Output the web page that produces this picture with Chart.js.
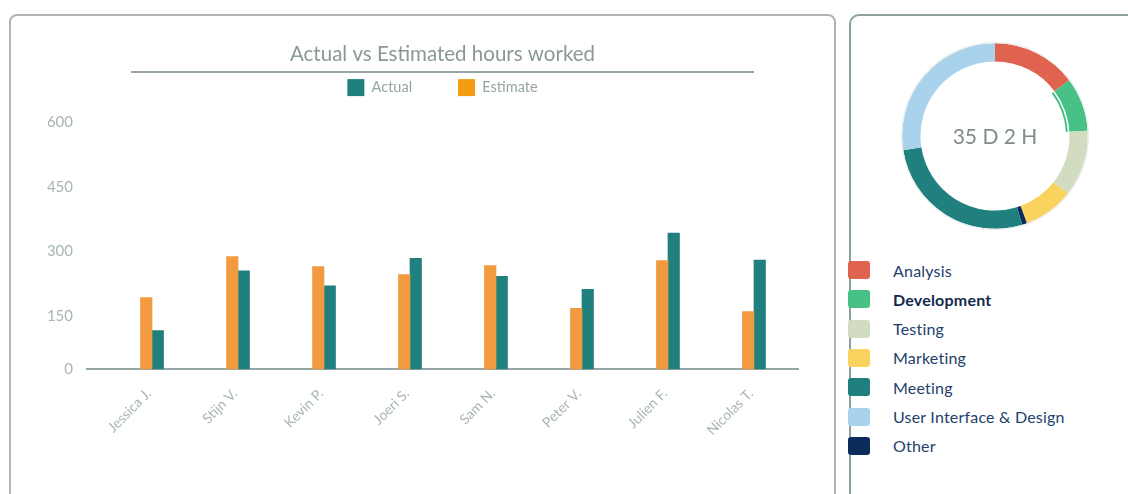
<!DOCTYPE html>
<html>
<head>
<meta charset="utf-8">
<script src="https://cdn.jsdelivr.net/npm/chart.js@4.4.1/dist/chart.umd.min.js"></script>
<style>
  html, body { margin:0; padding:0; background:#fff; }
  body { width:1128px; height:494px; overflow:hidden; position:relative; font-family:Lato, "Open Sans", sans-serif; }
  .card { position:absolute; box-sizing:border-box; background:#fff; }
  #cardL { left:9px; top:14px; width:827px; height:540px; border:2px solid #b3b3b3; border-radius:8px; }
  #cardR { left:849px; top:14px; width:320px; height:540px; border:2px solid #8e9f9f; border-radius:10px; }
  #barCanvas { position:absolute; left:10px; top:14px; }
  #donutCanvas { position:absolute; left:901px; top:42px; }
  #legendR { position:absolute; left:848px; top:255.4px; margin:0; padding:0; list-style:none; }
  #legendR li { height:29.3px; display:flex; align-items:center; font-size:16px; color:#23406a; letter-spacing:0.2px; }
  #legendR li .sw { width:22px; height:18px; border-radius:3px; margin-right:23px; flex:none; }
  #legendR li.on { font-weight:bold; color:#11294d; }
</style>
</head>
<body>
<div class="card" id="cardL"></div>
<div class="card" id="cardR"></div>
<canvas id="barCanvas" width="826" height="480"></canvas>
<canvas id="donutCanvas" width="188" height="188"></canvas>
<ul id="legendR"></ul>
<script>
// ---- data ----
const names = ['Jessica J.', 'Stijn V.', 'Kevin P.', 'Joeri S.', 'Sam N.', 'Peter V.', 'Julien F.', 'Nicolas T.'];
const actualHours = [90, 229, 194, 258, 216, 186, 317, 254];
const estimateHours = [167, 262, 239, 220, 241, 142, 253, 134];
const yTickValues = [0, 150, 300, 450, 600];

const activityLabels = ['Analysis', 'Development', 'Testing', 'Marketing', 'Other', 'Meeting', 'User Interface & Design'];
const activityHours = [124, 79, 97, 74, 7, 230, 231];
const activityColors = ['#e0634f', '#47c185', '#d2dcc0', '#f9d35e', '#0b2b5a', '#1f807d', '#a9d3ec'];
const legendOrder = ['Analysis', 'Development', 'Testing', 'Marketing', 'Meeting', 'User Interface & Design', 'Other'];
const highlighted = 'Development';

// ---- bar chart ----
const legendBoxColors = { 'Actual': '#1e817e', 'Estimate': '#f39c12' };
const titleRule = {
  id: 'titleRule',
  afterDraw(chart) {
    const { ctx, chartArea } = chart;
    const y = chart.titleBlock.top + 58;
    ctx.save();
    ctx.strokeStyle = '#95a5a6';
    ctx.lineWidth = 2;
    ctx.beginPath();
    ctx.moveTo(chartArea.left + 44, y);
    ctx.lineTo(chartArea.right - 44, y);
    ctx.stroke();
    ctx.restore();
  }
};

new Chart(document.getElementById('barCanvas'), {
  type: 'bar',
  data: {
    datasets: [
      { label: 'Estimate', data: estimateHours.map((v, i) => ({ x: i, y: v })), backgroundColor: '#f19a3f', borderWidth: 0, barThickness: 11.5 },
      { label: 'Actual', data: actualHours.map((v, i) => ({ x: i, y: v })), backgroundColor: '#1f807d', borderWidth: 0, barThickness: 11.5 }
    ]
  },
  plugins: [titleRule],
  options: {
    responsive: false,
    animation: false,
    layout: { padding: { left: 0, right: 38, top: 0, bottom: 0 } },
    plugins: {
      title: {
        display: true, text: 'Actual vs Estimated hours worked', fullSize: false,
        color: '#8a9899', font: { family: 'Lato', size: 20.5, weight: 'normal' },
        padding: { top: 28, bottom: -33.5 }
      },
      legend: {
        display: true, fullSize: false, reverse: true,
        labels: {
          boxWidth: 17, boxHeight: 17, padding: 46, color: '#97a4a5',
          font: { family: 'Lato', size: 14.5 },
          generateLabels: (chart) => Chart.defaults.plugins.legend.labels.generateLabels(chart)
            .map(l => Object.assign({}, l, { fillStyle: legendBoxColors[l.text] || l.fillStyle, lineWidth: 0 }))
        }
      },
      tooltip: { enabled: false }
    },
    scales: {
      x: {
        type: 'linear', min: -0.756, max: 7.512, offset: false,
        grid: { display: false, drawTicks: false },
        border: { display: true, color: '#95a5a6', width: 2 },
        afterBuildTicks: (s) => { s.ticks = names.map((n, i) => ({ value: i })); },
        afterFit: (s) => { s.height = 124.7; },
        ticks: {
          autoSkip: false, minRotation: 45, maxRotation: 45, padding: 16, labelOffset: -3,
          color: '#a8b5b6', font: { family: 'Lato', size: 14 },
          callback: (v) => names[Math.round(v)]
        }
      },
      y: {
        min: 0, max: 612,
        grid: { display: false, drawTicks: false },
        border: { display: false },
        afterBuildTicks: (s) => { s.ticks = yTickValues.map(v => ({ value: v })); },
        afterFit: (s) => { s.width = 77; },
        ticks: {
          padding: 14, autoSkip: false,
          color: '#a8b5b6', font: { family: 'Lato', size: 15, lineHeight: '22px' },
          callback: (v) => (v === 0 ? '0' : ['', String(v)])
        }
      }
    }
  }
});

// ---- doughnut ----
const centerText = {
  id: 'centerText',
  afterDraw(chart) {
    const { ctx, chartArea } = chart;
    const total = activityHours.reduce((a, b) => a + b, 0);
    const text = Math.floor(total / 24) + ' D ' + (total % 24) + ' H';
    ctx.save();
    ctx.font = '21px Lato';
    ctx.fillStyle = '#7f8c8d';
    ctx.textAlign = 'center';
    ctx.textBaseline = 'middle';
    ctx.fillText(text, (chartArea.left + chartArea.right) / 2, (chartArea.top + chartArea.bottom) / 2 + 1);
    ctx.restore();
  }
};

new Chart(document.getElementById('donutCanvas'), {
  type: 'doughnut',
  data: {
    labels: activityLabels,
    datasets: [
      { data: activityHours, backgroundColor: activityLabels.map(() => '#ececec'), weight: 1.2 },
      { data: activityHours, backgroundColor: activityColors, weight: 18 },
      { data: activityHours, backgroundColor: 'rgba(0,0,0,0)', weight: 1.5 },
      { data: activityHours, backgroundColor: activityLabels.map((l, i) => l === highlighted ? activityColors[i] : 'rgba(0,0,0,0)'), weight: 2 }
    ]
  },
  plugins: [centerText],
  options: {
    responsive: false,
    animation: false,
    cutout: '75.5%',
    layout: { padding: 0 },
    elements: { arc: { borderWidth: 0, offset: 0, hoverOffset: 0 } },
    plugins: { legend: { display: false }, tooltip: { enabled: false } }
  }
});

// ---- HTML legend for doughnut ----
const ul = document.getElementById('legendR');
legendOrder.forEach(name => {
  const i = activityLabels.indexOf(name);
  const li = document.createElement('li');
  if (name === highlighted) li.className = 'on';
  const sw = document.createElement('span');
  sw.className = 'sw';
  sw.style.background = activityColors[i];
  li.appendChild(sw);
  li.appendChild(document.createTextNode(name));
  ul.appendChild(li);
});
</script>
</body>
</html>
